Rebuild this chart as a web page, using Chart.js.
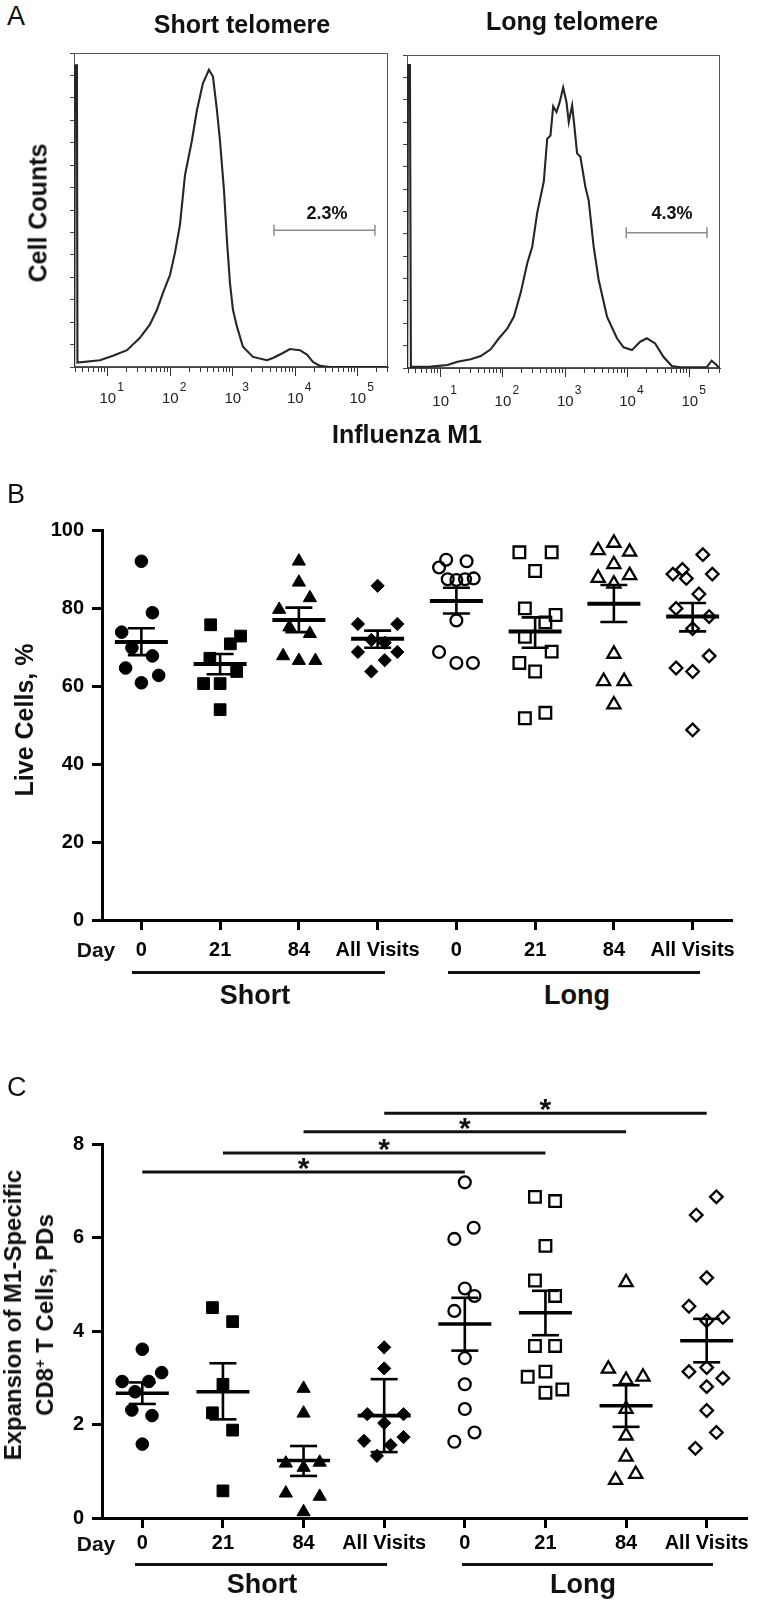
<!DOCTYPE html>
<html>
<head>
<meta charset="utf-8">
<script src="https://cdn.jsdelivr.net/npm/chart.js@4.4.0/dist/chart.umd.min.js"></script>
<style>
  html, body { margin: 0; padding: 0; background: #fff; }
  body { width: 784px; height: 1602px; position: relative; overflow: hidden;
         font-family: 'Liberation Sans', Arial, sans-serif; color: #111; }
  canvas { position: absolute; }
  .t { position: absolute; white-space: nowrap; line-height: 1; font-weight: bold;
       transform: translate(-50%, -50%); }
  .rot { transform: translate(-50%, -50%) rotate(-90deg); text-align: center; }
  .panel { position: absolute; font-size: 27px; line-height: 1; }
  .rule { position: absolute; height: 3px; background: #111; }
  sup { font-size: 0.6em; vertical-align: 0.55em; line-height: 0; }
</style>
</head>
<body>

<canvas id="histShort" width="400" height="400" style="left:0;top:33px"></canvas>
<canvas id="histLong" width="384" height="400" style="left:400px;top:33px"></canvas>
<canvas id="liveChart" width="784" height="470" style="left:0;top:500px"></canvas>
<canvas id="expChart" width="784" height="480" style="left:0;top:1090px"></canvas>

<!-- panel A text -->
<div class="panel" style="left:7px;top:3px">A</div>
<div class="t" style="left:242px;top:24px;font-size:25px">Short telomere</div>
<div class="t" style="left:572px;top:21px;font-size:25px">Long telomere</div>
<div class="t rot" style="left:38px;top:213px;font-size:25px">Cell Counts</div>
<div class="t" style="left:407px;top:434px;font-size:25px">Influenza M1</div>

<!-- panel B text -->
<div class="panel" style="left:7px;top:481px">B</div>
<div class="t rot" style="left:24px;top:720px;font-size:25px">Live Cells, %</div>
<div class="t" style="left:96px;top:949px;font-size:21px">Day</div>
<div class="rule" style="left:132px;top:971px;width:253px"></div>
<div class="rule" style="left:448px;top:971px;width:252px"></div>
<div class="t" style="left:255px;top:995px;font-size:27px">Short</div>
<div class="t" style="left:577px;top:995px;font-size:27px">Long</div>

<!-- panel C text -->
<div class="panel" style="left:7px;top:1074px">C</div>
<div class="t rot" style="left:29px;top:1315px;font-size:24px;line-height:32px">Expansion of M1-Specific<br>CD8<sup>+</sup> T Cells, PDs</div>
<div class="t" style="left:96px;top:1543px;font-size:21px">Day</div>
<div class="rule" style="left:135px;top:1563px;width:252px"></div>
<div class="rule" style="left:462px;top:1563px;width:251px"></div>
<div class="t" style="left:262px;top:1584px;font-size:27px">Short</div>
<div class="t" style="left:583px;top:1584px;font-size:27px">Long</div>

<script>
// ---- Panel A: flow histograms, [fluorescence, cell count] ----
const histMin = 2.88;
const histMax = 305000;
const histDecades = [1, 2, 3, 4, 5];
const histCountMax = 280;

const shortTelomereHist = [
  [2.9, 0], [2.99, 269], [3.21, 269], [3.27, 4], [7.5, 6], [12.1, 10], [20.3, 15], [32.7, 26],
  [47.3, 38], [61.2, 51], [76.4, 66], [98.9, 82], [119, 102], [143, 127], [172, 171], [222, 202],
  [267, 229], [333, 253], [416, 265], [482, 259], [558, 229], [624, 202], [723, 158], [807, 113],
  [902, 75], [1007, 51], [1167, 36], [1455, 18], [2104, 9], [3524, 6], [4395, 8], [6353, 12.5],
  [8222, 16], [11885, 15], [15380, 11], [19190, 4.5], [24830, 1], [35890, 0], [304000, 0]
];
const longTelomereHist = [
  [2.9, 0], [2.99, 271], [3.21, 271], [3.33, 1], [6.97, 1.2], [12.9, 2.7], [18.6, 5.6], [30.4, 7.8],
  [44, 10.7], [63.5, 16.7], [86.3, 26.6], [118, 35.5], [150, 46], [192, 67], [246, 94], [295, 108.5],
  [355, 139], [453, 167], [513, 205], [579, 208], [640, 234], [723, 229], [817, 238], [925, 251],
  [1045, 238], [1138, 220], [1289, 235], [1403, 216], [1549, 192], [1750, 189], [2104, 162],
  [2377, 150], [2858, 108.5], [3436, 79], [4677, 46], [6761, 26.6], [8630, 18.5], [11750, 16],
  [15960, 23.5], [20420, 26.6], [27730, 22], [37670, 10], [51290, 1.8], [69660, 0.6],
  [186200, 0.6], [223900, 6.5], [269000, 2.7], [296500, 0]
];
const gateShort = [4560, 188400];
const gateShortLevel = 122;
const gateLong = [9530, 188400];
const gateLongLevel = 121;
const pctShort = { text: '2.3%', x: 32100, y: 136 };
const pctLong = { text: '4.3%', x: 51900, y: 138 };

// ---- Panel B: live cells, % ----
const dayLabels = ['0', '21', '84', 'All Visits', '0', '21', '84', 'All Visits'];
const liveTicks = [0, 20, 40, 60, 80, 100];
const liveCells = [
  [92.1, 78.9, 73.9, 69.9, 67.8, 64.7, 62.8, 60.9],
  [75.8, 72.9, 70.9, 67.2, 63.8, 60.7, 60.7, 54.0],
  [92.1, 86.7, 82.7, 79.7, 75.2, 73.5, 67.8, 66.6, 66.6],
  [85.8, 76.0, 76.0, 71.9, 71.2, 68.8, 68.8, 66.7, 63.8],
  [92.5, 92.1, 90.5, 87.5, 87.3, 87.5, 87.7, 76.9, 68.8, 66.0, 66.0],
  [94.4, 94.4, 89.6, 80.0, 78.3, 76.4, 72.7, 68.9, 66.0, 63.8, 51.8, 53.2],
  [96.8, 94.9, 94.5, 91.3, 87.8, 88.5, 86.3, 68.3, 61.3, 61.3, 55.3],
  [93.8, 90.0, 88.8, 88.8, 87.7, 83.7, 80.0, 77.9, 74.8, 67.8, 64.7, 63.8, 48.8]
];
const liveJitter = [
  [0, 0.14, -0.25, -0.12, 0.14, -0.2, 0.22, 0],
  [-0.12, 0.26, 0.13, -0.13, 0.21, -0.21, 0, 0],
  [0, 0, 0.14, -0.25, -0.12, 0.14, -0.2, 0, 0.21],
  [0, -0.25, 0.25, -0.08, 0.09, -0.25, 0.25, 0.09, -0.08],
  [-0.13, 0.13, -0.22, -0.11, 0, 0.11, 0.22, 0, -0.22, 0, 0.21],
  [-0.2, 0.21, 0, -0.13, 0.26, 0.13, -0.13, 0.21, -0.2, 0, -0.13, 0.13],
  [0, -0.2, 0.2, 0, -0.2, 0.2, 0, 0, -0.13, 0.13, 0],
  [0.13, -0.13, -0.25, 0.25, -0.08, 0.08, -0.21, 0.21, 0, 0.21, -0.21, 0, 0]
];
const liveMean = [71.4, 65.7, 77.0, 72.2, 81.9, 74.1, 81.2, 77.9];
const liveSemHigh = [74.9, 68.3, 80.2, 74.3, 85.3, 77.7, 86.0, 81.4];
const liveSemLow = [68.0, 63.1, 73.9, 69.9, 78.7, 69.9, 76.5, 74.1];

// ---- Panel C: expansion of M1-specific CD8+ T cells, PDs ----
const expTicks = [0, 2, 4, 6, 8];
const expansion = [
  [3.61, 2.92, 2.92, 3.11, 2.70, 2.31, 2.19, 1.58],
  [4.50, 4.20, 2.86, 2.25, 1.88, 0.58],
  [2.77, 2.24, 1.17, 1.08, 1.19, 0.53, 0.46, 0.13],
  [3.65, 3.20, 2.22, 2.22, 2.03, 1.65, 1.56, 1.73, 1.33],
  [7.18, 6.21, 5.97, 4.91, 4.75, 4.43, 3.42, 2.86, 2.33, 1.83, 1.63],
  [6.87, 6.78, 5.82, 5.08, 4.75, 3.68, 3.68, 3.02, 3.13, 2.68, 2.75],
  [5.04, 3.19, 3.02, 2.95, 2.33, 1.76, 1.31, 0.94, 0.81],
  [6.87, 6.48, 5.14, 4.53, 4.29, 4.22, 3.13, 3.22, 2.99, 2.81, 2.30, 1.83, 1.49]
];
const expJitter = [
  [0, -0.25, 0.08, 0.24, -0.09, -0.13, 0.12, 0],
  [-0.13, 0.12, 0, -0.13, 0.12, 0],
  [0, 0, -0.22, 0, 0.2, -0.22, 0.2, 0],
  [0, 0, -0.21, 0.24, 0, -0.25, 0.08, 0.24, -0.09],
  [0, 0.11, -0.13, 0, 0.12, -0.13, 0, 0, 0, 0.12, -0.13],
  [-0.13, 0.12, 0, -0.13, 0.12, -0.13, 0.12, -0.22, 0, 0, 0.21],
  [0, -0.22, 0.21, 0, 0, 0, 0, 0.12, -0.13],
  [0.12, -0.13, 0, -0.22, 0.2, 0, -0.22, 0, 0.2, 0, 0, 0.12, -0.14]
];
const expMean = [2.67, 2.70, 1.23, 2.19, 4.15, 4.39, 2.40, 3.79];
const expErrHigh = [2.90, 3.31, 1.54, 2.97, 4.71, 4.86, 2.84, 4.26];
const expErrLow = [2.44, 2.11, 0.90, 1.41, 3.58, 3.91, 1.95, 3.33];
const sigFrom = [1, 2, 3, 4];
const sigTo = [5, 6, 7, 8];
const sigLevel = [7.40, 7.81, 8.26, 8.66];
const sigMark = ['*', '*', '*', '*'];

const FONT = "'Liberation Sans', Arial, sans-serif";
Chart.defaults.font.family = FONT;
Chart.defaults.color = '#000';

// box around the histogram plotting area
const framePlugin = {
  id: 'frame',
  beforeDatasetsDraw(chart) {
    const a = chart.chartArea, ctx = chart.ctx;
    ctx.save();
    ctx.strokeStyle = '#555';
    ctx.lineWidth = 1;
    ctx.strokeRect(Math.round(a.left) + 0.5, Math.round(a.top) + 0.5,
      Math.round(a.right - a.left) - 1, Math.round(a.bottom - a.top) - 1);
    ctx.restore();
  }
};

// "10^n" labels under the log axis
function decadePlugin(base, sup) {
  return {
    id: 'decades',
    afterDraw(chart) {
      const ctx = chart.ctx, xs = chart.scales.x, bottom = chart.chartArea.bottom;
      ctx.save();
      ctx.fillStyle = '#222';
      ctx.textBaseline = 'middle';
      histDecades.forEach(e => {
        const px = xs.getPixelForValue(Math.pow(10, e));
        ctx.font = '15px ' + FONT;
        ctx.textAlign = 'center';
        ctx.fillText('10', px, bottom + base);
        ctx.font = '12px ' + FONT;
        ctx.textAlign = 'left';
        ctx.fillText(String(e), px + 9.5, bottom + sup);
      });
      ctx.restore();
    }
  };
}

// gate percentage text
function pctPlugin(pct) {
  return {
    id: 'pct',
    afterDatasetsDraw(chart) {
      const ctx = chart.ctx;
      ctx.save();
      ctx.font = 'bold 18px ' + FONT;
      ctx.fillStyle = '#111';
      ctx.textAlign = 'center';
      ctx.textBaseline = 'middle';
      ctx.fillText(pct.text, chart.scales.x.getPixelForValue(pct.x), chart.scales.y.getPixelForValue(pct.y));
      ctx.restore();
    }
  };
}

function makeHistogram(id, curve, gate, gateLevel, pct, box) {
  new Chart(document.getElementById(id), {
    type: 'scatter',
    data: {
      datasets: [
        {
          data: curve.map(p => ({ x: p[0], y: p[1] })),
          showLine: true, borderColor: '#262626', borderWidth: 2.1,
          pointRadius: 0, tension: 0
        },
        {
          data: gate.map(x => ({ x: x, y: gateLevel })),
          showLine: true, borderColor: '#8c8c8c', borderWidth: 1.5,
          pointStyle: 'line', pointRadius: 5.5, pointRotation: 90,
          pointBorderColor: '#8c8c8c', pointBorderWidth: 1.5
        }
      ]
    },
    options: {
      responsive: false, animation: false, events: [],
      layout: { padding: box.pad },
      plugins: { legend: { display: false }, tooltip: { enabled: false } },
      scales: {
        x: {
          type: 'logarithmic', min: histMin, max: histMax,
          afterBuildTicks: s => {
            const t = [];
            for (let e = 0; e <= 5; e++) {
              for (let m = 1; m <= 9; m++) {
                const v = m * Math.pow(10, e);
                if (v >= histMin && v <= histMax) t.push({ value: v, major: m === 1 });
              }
            }
            s.ticks = t;
          },
          afterFit: s => { s.height = box.xh; },
          ticks: { autoSkip: false, maxRotation: 0, callback: () => '' },
          border: { color: '#444', width: 1 },
          grid: {
            drawOnChartArea: false, tickLength: 9, color: '#333', tickWidth: 1,
            tickBorderDash: ctx => (ctx.tick && ctx.tick.major) ? [] : [4, 30]
          }
        },
        y: {
          min: 0, max: histCountMax,
          ticks: { stepSize: 20, callback: () => '' },
          afterFit: s => { s.width = box.yw; },
          border: { color: '#444', width: 1 },
          grid: { drawOnChartArea: false, tickLength: 4, color: '#444' }
        }
      }
    },
    plugins: [framePlugin, decadePlugin(box.base, box.sup), pctPlugin(pct)]
  });
}

makeHistogram('histShort', shortTelomereHist, gateShort, gateShortLevel, pctShort,
  { pad: { top: 20, right: 12, left: 0, bottom: 0 }, yw: 74, xh: 66, base: 31.5, sup: 20.5 });
makeHistogram('histLong', longTelomereHist, gateLong, gateLongLevel, pctLong,
  { pad: { top: 22, right: 64, left: 0, bottom: 0 }, yw: 6, xh: 65, base: 34, sup: 22.5 });

// ---- dot plots (B, C) ----
const shapes = ['circle', 'rect', 'triangle', 'rectRot', 'circle', 'rect', 'triangle', 'rectRot'];
const filled = [true, true, true, true, false, false, false, false];
const radiusFilled = { circle: 6.3, rect: 8.3, triangle: 7.6, rectRot: 6.6 };
const radiusOpen = { circle: 5.9, rect: 8.2, triangle: 7.6, rectRot: 6.3 };

function starPlugin(sig) {
  return {
    id: 'stars',
    afterDatasetsDraw(chart) {
      if (!sig) return;
      const ctx = chart.ctx, xs = chart.scales.x, ys = chart.scales.y;
      ctx.save();
      ctx.font = 'bold 30px ' + FONT;
      ctx.fillStyle = '#111';
      ctx.textAlign = 'center';
      ctx.textBaseline = 'alphabetic';
      sig.from.forEach((f, i) => {
        const x = (xs.getPixelForValue(f) + xs.getPixelForValue(sig.to[i])) / 2;
        const cy = ys.getPixelForValue(sig.level[i]) - 8;
        const m = ctx.measureText(sig.mark[i]);
        ctx.fillText(sig.mark[i], x, cy + (m.actualBoundingBoxAscent - m.actualBoundingBoxDescent) / 2);
      });
      ctx.restore();
    }
  };
}

function makeDotChart(id, o) {
  const ds = [];
  ds.push({ // group means
    data: o.mean.map((m, i) => ({ x: i + 1, y: m })),
    pointStyle: 'line', pointRadius: 26.5, pointBorderWidth: o.meanWidth,
    pointBorderColor: '#000', pointBackgroundColor: '#000'
  });
  ds.push({ // error caps
    data: o.hi.map((v, i) => ({ x: i + 1, y: v })).concat(o.lo.map((v, i) => ({ x: i + 1, y: v }))),
    pointStyle: 'line', pointRadius: 13.5, pointBorderWidth: 2.6,
    pointBorderColor: '#000', pointBackgroundColor: '#000'
  });
  const stems = [];
  o.hi.forEach((v, i) => { stems.push({ x: i + 1, y: o.lo[i] }, { x: i + 1, y: v }, { x: i + 1, y: null }); });
  ds.push({ data: stems, showLine: true, spanGaps: false, borderColor: '#000', borderWidth: 2.6, pointRadius: 0 });

  o.values.forEach((vals, g) => {
    const r = filled[g] ? radiusFilled[shapes[g]] : radiusOpen[shapes[g]];
    ds.push({
      data: vals.map((v, i) => ({ x: g + 1 + o.jitter[g][i], y: v })),
      pointStyle: shapes[g], pointRadius: r,
      pointBackgroundColor: filled[g] ? '#000' : 'rgba(0,0,0,0)',
      pointBorderColor: '#000', pointBorderWidth: filled[g] ? 1 : 2.3,
      borderColor: '#000', backgroundColor: '#000'
    });
  });

  if (o.sig) {
    const bars = [];
    o.sig.from.forEach((f, i) => {
      bars.push({ x: f, y: o.sig.level[i] }, { x: o.sig.to[i], y: o.sig.level[i] }, { x: f, y: null });
    });
    ds.push({ data: bars, showLine: true, spanGaps: false, clip: false,
      borderColor: '#111', borderWidth: 3, pointRadius: 0 });
  }

  new Chart(document.getElementById(id), {
    type: 'scatter',
    data: { datasets: ds },
    options: {
      responsive: false, animation: false, events: [],
      layout: { padding: o.pad },
      plugins: { legend: { display: false }, tooltip: { enabled: false } },
      scales: {
        x: {
          type: 'linear', min: 0.5, max: 8.5,
          afterBuildTicks: s => { s.ticks = dayLabels.map((_, i) => ({ value: i + 1 })); },
          afterFit: s => { s.height = o.xh; },
          ticks: {
            autoSkip: false, maxRotation: 0, padding: o.xPad, color: '#000',
            font: { size: 20, weight: 'bold' },
            callback: (v, i) => dayLabels[i]
          },
          border: { color: '#000', width: 3 },
          grid: { drawOnChartArea: false, tickLength: 10, tickWidth: 3, tickColor: '#000', color: '#000' }
        },
        y: {
          min: 0, max: o.yTicks[o.yTicks.length - 1],
          afterBuildTicks: s => { s.ticks = o.yTicks.map(v => ({ value: v })); },
          afterFit: s => { s.width = 102; },
          ticks: { padding: 8, color: '#000', font: { size: 20, weight: 'bold' } },
          border: { color: '#000', width: 3 },
          grid: { drawOnChartArea: false, tickLength: 10, tickWidth: 3, tickColor: '#000', color: '#000' }
        }
      }
    },
    plugins: [starPlugin(o.sig)]
  });
}

makeDotChart('liveChart', {
  values: liveCells, jitter: liveJitter, mean: liveMean, hi: liveSemHigh, lo: liveSemLow,
  yTicks: liveTicks, meanWidth: 4, xPad: 8, xh: 50,
  pad: { top: 22, right: 52, left: 0, bottom: 0 }
});

makeDotChart('expChart', {
  values: expansion, jitter: expJitter, mean: expMean, hi: expErrHigh, lo: expErrLow,
  yTicks: expTicks, meanWidth: 3.6, xPad: 3, xh: 52,
  pad: { top: 54, right: 37, left: 0, bottom: 0 },
  sig: { from: sigFrom, to: sigTo, level: sigLevel, mark: sigMark }
});
</script>
</body>
</html>
